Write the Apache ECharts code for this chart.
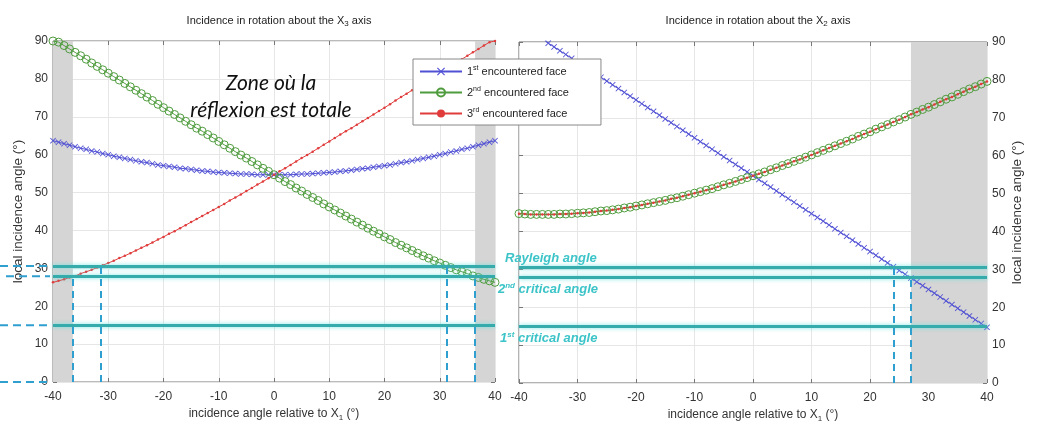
<!DOCTYPE html>
<html><head><meta charset="utf-8">
<script src="https://cdn.jsdelivr.net/npm/echarts@6/dist/echarts.min.js"></script>
<style>html,body{margin:0;padding:0;background:#fff}#c{width:1037px;height:423px}</style>
</head><body><div id="c"></div>
<script>
// ---------- DATA ----------
const xAngles = [
  -40,-39,-38,-37,-36,-35,-34,-33,-32,-31,
  -30,-29,-28,-27,-26,-25,-24,-23,-22,-21,
  -20,-19,-18,-17,-16,-15,-14,-13,-12,-11,
  -10,-9,-8,-7,-6,-5,-4,-3,-2,-1,
  0,1,2,3,4,5,6,7,8,9,
  10,11,12,13,14,15,16,17,18,19,
  20,21,22,23,24,25,26,27,28,29,
  30,31,32,33,34,35,36,37,38,39,
  40];
const seriesNames = ['1st encountered face', '2nd encountered face', '3rd encountered face'];

// Left panel: rotation about X3
const leftFace1 = [
  63.7,63.3,62.9,62.5,62.1,61.7,61.4,61.0,60.7,60.3,
  60.0,59.6,59.3,59.0,58.7,58.4,58.1,57.9,57.6,57.3,
  57.1,56.9,56.7,56.4,56.3,56.1,55.9,55.7,55.6,55.4,
  55.3,55.2,55.1,55.0,54.9,54.9,54.8,54.7,54.7,54.7,
  54.7,54.7,54.7,54.7,54.8,54.9,54.9,55.0,55.1,55.2,
  55.3,55.4,55.6,55.7,55.9,56.1,56.3,56.4,56.7,56.9,
  57.1,57.3,57.6,57.9,58.1,58.4,58.7,59.0,59.3,59.6,
  60.0,60.3,60.7,61.0,61.4,61.7,62.1,62.5,62.9,63.3,
  63.7];
const leftFace2 = [
  90.0,89.7,88.8,87.9,87.0,86.1,85.2,84.2,83.3,82.4,
  81.5,80.6,79.7,78.8,77.9,77.0,76.1,75.2,74.3,73.3,
  72.4,71.5,70.6,69.7,68.8,67.9,67.0,66.2,65.3,64.4,
  63.5,62.6,61.7,60.8,59.9,59.1,58.2,57.3,56.4,55.6,
  54.7,53.8,52.9,52.1,51.2,50.4,49.5,48.7,47.9,47.0,
  46.2,45.4,44.6,43.8,43.0,42.2,41.4,40.6,39.8,39.1,
  38.3,37.6,36.8,36.1,35.4,34.7,34.0,33.3,32.7,32.0,
  31.4,30.8,30.2,29.6,29.1,28.6,28.0,27.6,27.1,26.7,
  26.3];
const leftFace3 = [
  26.3,26.7,27.1,27.6,28.0,28.6,29.1,29.6,30.2,30.8,
  31.4,32.0,32.7,33.3,34.0,34.7,35.4,36.1,36.8,37.6,
  38.3,39.1,39.8,40.6,41.4,42.2,43.0,43.8,44.6,45.4,
  46.2,47.0,47.9,48.7,49.5,50.4,51.2,52.1,52.9,53.8,
  54.7,55.6,56.4,57.3,58.2,59.1,59.9,60.8,61.7,62.6,
  63.5,64.4,65.3,66.2,67.0,67.9,68.8,69.7,70.6,71.5,
  72.4,73.3,74.3,75.2,76.1,77.0,77.9,78.8,79.7,80.6,
  81.5,82.4,83.3,84.2,85.2,86.1,87.0,87.9,88.8,89.7,
  90.0];

// Right panel: rotation about X2
const rightFace1 = [
  null,null,null,null,90.7,89.7,88.7,87.7,86.7,85.7,
  84.7,83.7,82.7,81.7,80.7,79.7,78.7,77.7,76.7,75.7,
  74.7,73.7,72.7,71.7,70.7,69.7,68.7,67.7,66.7,65.7,
  64.7,63.7,62.7,61.7,60.7,59.7,58.7,57.7,56.7,55.7,
  54.7,53.7,52.7,51.7,50.7,49.7,48.7,47.7,46.7,45.7,
  44.7,43.7,42.7,41.7,40.7,39.7,38.7,37.7,36.7,35.7,
  34.7,33.7,32.7,31.7,30.7,29.7,28.7,27.7,26.7,25.7,
  24.7,23.7,22.7,21.7,20.7,19.7,18.7,17.7,16.7,15.7,
  14.7];
const rightFace2 = [
  44.7,44.6,44.5,44.5,44.5,44.5,44.5,44.6,44.6,44.7,
  44.8,44.9,45.0,45.2,45.4,45.5,45.7,45.9,46.2,46.4,
  46.7,47.0,47.3,47.6,47.9,48.2,48.6,48.9,49.3,49.7,
  50.1,50.5,50.9,51.3,51.8,52.3,52.7,53.2,53.7,54.2,
  54.7,55.2,55.7,56.3,56.8,57.4,57.9,58.5,59.0,59.6,
  60.2,60.8,61.4,62.0,62.6,63.2,63.8,64.4,65.1,65.7,
  66.3,67.0,67.6,68.2,68.9,69.5,70.2,70.9,71.5,72.2,
  72.8,73.5,74.2,74.9,75.5,76.2,76.9,77.6,78.2,78.9,
  79.6];
const rightFace3 = [
  44.7,44.6,44.5,44.5,44.5,44.5,44.5,44.6,44.6,44.7,
  44.8,44.9,45.0,45.2,45.4,45.5,45.7,45.9,46.2,46.4,
  46.7,47.0,47.3,47.6,47.9,48.2,48.6,48.9,49.3,49.7,
  50.1,50.5,50.9,51.3,51.8,52.3,52.7,53.2,53.7,54.2,
  54.7,55.2,55.7,56.3,56.8,57.4,57.9,58.5,59.0,59.6,
  60.2,60.8,61.4,62.0,62.6,63.2,63.8,64.4,65.1,65.7,
  66.3,67.0,67.6,68.2,68.9,69.5,70.2,70.9,71.5,72.2,
  72.8,73.5,74.2,74.9,75.5,76.2,76.9,77.6,78.2,78.9,
  79.6];

// Reference angles (deg)
const angleLabels = ['Rayleigh angle', '2{sup|nd} critical angle', '1{sup|st} critical angle'];
const angleValues = [30.6, 27.9, 15.0];
// Total reflection zones (x ranges)
const leftZones = [[-40, -36.4], [36.4, 40]];
const rightZones = [[27, 40]];
// Crossing points where dashed verticals are drawn [x, y]
const leftCrossings = [[-36.4, 27.9], [-31.3, 30.6], [31.3, 30.6], [36.4, 27.9]];
const rightCrossings = [[24.0, 30.6], [27.0, 27.9]];
const xTicks = {min: -40, max: 40, step: 10};
const yTicks = {min: 0, max: 90, step: 10};

// ---------- CHART ----------
const FONT = '"Liberation Sans", Arial, Helvetica, sans-serif';
const chart = echarts.init(document.getElementById('c'), null, {renderer: 'canvas'});
const pts = ys => xAngles.map((x, i) => [x, ys[i]]).filter(p => p[1] != null);

const BLUE = '#5050d4', GREEN = '#4f9c3e', RED = '#e03c3c';
const TEAL = '#36abab', DASH = '#2f9fcf';
const xSymbol = 'path://M0,1L1,0L5,4L9,0L10,1L6,5L10,9L9,10L5,6L1,10L0,9L4,5Z';

const subRich = {sub: {fontSize: 8, fontFamily: FONT, color: '#222', padding: [7, 0, 0, 0]}};
const supRich = {sup: {fontSize: 7, fontFamily: FONT, color: '#222', padding: [0, 0, 6, 0]}};

function xAx(g, pos, labels) {
  return {
    gridIndex: g, type: 'value', position: pos,
    min: xTicks.min, max: xTicks.max, interval: xTicks.step,
    axisLine: {show: false, onZero: false},
    axisTick: {show: true, inside: true, length: 4, lineStyle: {color: '#777'}},
    axisLabel: {show: labels, color: '#333', fontSize: 12, fontFamily: FONT, margin: 9},
    splitLine: {show: labels, lineStyle: {color: '#e6e6e6'}},
    name: labels ? 'incidence angle relative to X{sub|1} (°)' : '',
    nameLocation: 'middle', nameGap: 24,
    nameTextStyle: {fontSize: 12, color: '#333', fontFamily: FONT, rich: {sub: {fontSize: 8, color: '#333', padding: [7, 0, 0, 0]}}}
  };
}
function yAx(g, pos, labels, gap) {
  return {
    gridIndex: g, type: 'value', position: pos,
    min: yTicks.min, max: yTicks.max, interval: yTicks.step,
    axisLine: {show: false, onZero: false},
    axisTick: {show: true, inside: true, length: 4, lineStyle: {color: '#777'}},
    axisLabel: {show: labels, color: '#333', fontSize: 12, fontFamily: FONT, margin: 5},
    splitLine: {show: labels, lineStyle: {color: '#e6e6e6'}},
    name: labels ? 'local incidence angle (°)' : '',
    nameLocation: 'middle', nameRotate: 90, nameGap: gap,
    nameTextStyle: {fontSize: 13.5, color: '#333', fontFamily: FONT}
  };
}

function curve(name, ys, g, kind) {
  const base = {
    name, type: 'line', xAxisIndex: g * 2, yAxisIndex: g * 2,
    data: pts(ys), clip: true, animation: false, z: 3
  };
  if (kind === 1) Object.assign(base, {
    symbol: xSymbol, symbolSize: 6,
    lineStyle: {color: BLUE, width: 1}, itemStyle: {color: BLUE}
  });
  if (kind === 2) Object.assign(base, {
    symbol: 'circle', symbolSize: 8,
    lineStyle: {color: GREEN, width: 1},
    itemStyle: {color: 'rgba(255,255,255,0)', borderColor: GREEN, borderWidth: 1}
  });
  if (kind === 3) Object.assign(base, {
    symbol: 'circle', symbolSize: 2.5,
    lineStyle: {color: RED, width: 1}, itemStyle: {color: RED}
  });
  return base;
}

function decorate(s, zones, crossings) {
  s.markArea = {
    silent: true, itemStyle: {color: '#d5d5d5'},
    data: zones.map(z => [{xAxis: z[0]}, {xAxis: z[1]}])
  };
  s.markLine = {
    silent: true, symbol: ['none', 'none'], animation: false,
    label: {show: false},
    data: angleValues.map(v => ({yAxis: v, lineStyle: {color: TEAL, width: 3, type: 'solid',
      shadowBlur: 4, shadowColor: 'rgba(90,225,225,0.8)'}}))
      .concat(crossings.map(c => [
        {coord: [c[0], 0], lineStyle: {color: DASH, width: 2, type: [7, 5]}},
        {coord: [c[0], c[1]]}
      ]))
  };
  return s;
}

const series = [
  decorate(curve(seriesNames[0], leftFace1, 0, 1), leftZones, leftCrossings),
  curve(seriesNames[1], leftFace2, 0, 2),
  curve(seriesNames[2], leftFace3, 0, 3),
  decorate(curve(seriesNames[0], rightFace1, 1, 1), rightZones, rightCrossings),
  curve(seriesNames[1], rightFace2, 1, 2),
  curve(seriesNames[2], rightFace3, 1, 3)
];

chart.setOption({
  animation: false,
  textStyle: {fontFamily: FONT},
  title: [
    {text: 'Incidence in rotation about the X{sub|3} axis', left: 274, top: 8, textAlign: 'center',
     textStyle: {fontSize: 11, fontWeight: 'normal', color: '#222', fontFamily: FONT, rich: subRich}},
    {text: 'Incidence in rotation about the X{sub|2} axis', left: 753, top: 8, textAlign: 'center',
     textStyle: {fontSize: 11, fontWeight: 'normal', color: '#222', fontFamily: FONT, rich: subRich}}
  ],
  grid: [
    {left: 53, top: 41, width: 442, height: 341, show: true, borderColor: '#777', borderWidth: 1,
     backgroundColor: 'transparent', containLabel: false, outerBoundsMode: 'none'},
    {left: 519, top: 42, width: 468, height: 341, show: true, borderColor: '#666', borderWidth: 1,
     backgroundColor: 'transparent', containLabel: false, outerBoundsMode: 'none'}
  ],
  xAxis: [xAx(0, 'bottom', true), xAx(0, 'top', false), xAx(1, 'bottom', true), xAx(1, 'top', false)],
  yAxis: [yAx(0, 'left', true, 28), yAx(0, 'right', false, 0), yAx(1, 'right', true, 23), yAx(1, 'left', false, 0)],
  legend: {
    data: seriesNames, orient: 'vertical', left: 413, top: 59,
    backgroundColor: '#fff', borderColor: '#888', borderWidth: 1,
    padding: [6, 32, 6, 6], itemGap: 9, itemWidth: 42, itemHeight: 10,
    textStyle: {fontSize: 11, color: '#222', fontFamily: FONT, rich: supRich},
    formatter: n => n.replace(/^(\d)(st|nd|rd)/, '$1{sup|$2}')
  },
  series
});

// annotation graphics positioned from the axes
const px = (g, x, y) => chart.convertToPixel({xAxisIndex: g * 2, yAxisIndex: g * 2}, [x, y]);
const graphics = [];
const leftEdge = px(1, xTicks.min, 0)[0];
const labelDx = [-14, -21, -19];
const labelDy = [-9, 12, 12];
angleValues.forEach((v, i) => {
  const y = px(1, xTicks.min, v)[1];
  graphics.push({
    type: 'text', x: leftEdge + labelDx[i], y: y + labelDy[i], z: 10, silent: true,
    style: {
      text: angleLabels[i], fill: '#3cc4c8', font: 'italic bold 13px ' + FONT,
      textVerticalAlign: 'middle',
      rich: {sup: {fontSize: 8, fontStyle: 'italic', fontWeight: 'bold', fill: '#3cc4c8', padding: [0, 0, 7, 0]}}
    }
  });
});
angleValues.concat([0]).forEach((v, i) => {
  const y = px(0, xTicks.min, v)[1];
  graphics.push({
    type: 'line', z: 10, silent: true,
    shape: {x1: i === 1 ? 6 : 0, y1: y, x2: i === 1 ? 50 : 48, y2: y},
    style: {stroke: DASH, lineWidth: 2, lineDash: [8, 5]}
  });
});
graphics.push({
  type: 'text', x: 271, y: 97, z: 10, silent: true,
  style: {
    text: 'Zone où la\nréflexion est totale', fill: '#111',
    font: 'italic 21px Lato, "Open Sans", sans-serif', lineHeight: 27,
    textAlign: 'center', textVerticalAlign: 'middle'
  }
});
chart.setOption({graphic: graphics});
</script>
</body></html>
